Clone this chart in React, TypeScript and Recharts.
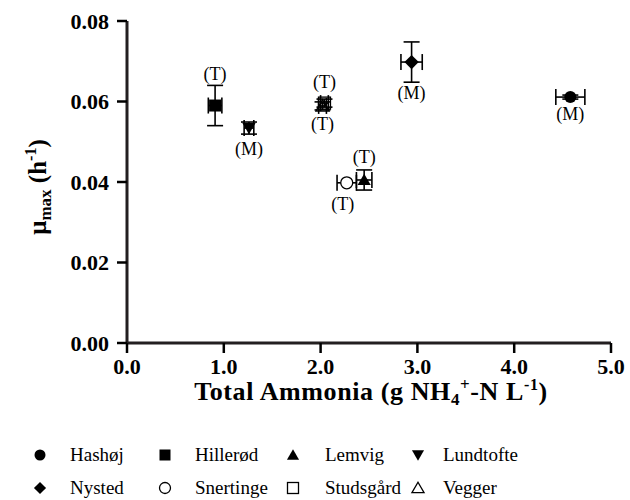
import React from 'react'
import { ScatterChart, Scatter, XAxis, YAxis, ErrorBar } from 'recharts'

// sites, in legend order
const sites = ['Hashøj', 'Hillerød', 'Lemvig', 'Lundtofte', 'Nysted', 'Snertinge', 'Studsgård', 'Vegger']
const ammonia = [4.58, 0.91, 2.45, 1.26, 2.94, 2.27, 2.04, 2.02]
const ammoniaErr = [0.15, 0.07, 0.08, 0.05, 0.11, 0.1, 0.04, 0.04]
const muMax = [0.0611, 0.059, 0.0405, 0.0534, 0.0698, 0.0398, 0.0596, 0.0589]
const muMaxErr = [0.0005, 0.005, 0.0025, 0.0015, 0.005, 0, 0.001, 0.001]
const tags = ['(M)', '(T)', '(T)', '(M)', '(M)', '(T)', '(T)', '(T)']

const xTicks = [0, 1, 2, 3, 4, 5]
const yTicks = [0, 0.02, 0.04, 0.06, 0.08]

type Kind = 'circle' | 'square' | 'triangle' | 'triangleDown' | 'diamond' | 'circleOpen' | 'squareOpen' | 'triangleOpen'
const kinds: Kind[] = ['circle', 'square', 'triangle', 'triangleDown', 'diamond', 'circleOpen', 'squareOpen', 'triangleOpen']
// vertical offset of the (T)/(M) tag from the marker centre
const tagDy = [17, -32, -23, 21, 31, 21, -21, 18]
const tagDx = [0, 0, 0, 0, 0, -4, 0, 0]

const FONT = "'Liberation Serif', 'DejaVu Serif', serif"
const serif = { fontFamily: FONT }

function Marker({ kind, cx, cy, s }: { kind: Kind; cx: number; cy: number; s: number }) {
    const h = s / 2
    const open = kind.endsWith('Open')
    const fill = open ? 'none' : '#000'
    const stroke = '#000'
    const sw = open ? 1.3 : 0
    if (kind === 'circle' || kind === 'circleOpen') {
        return <circle cx={cx} cy={cy} r={h} fill={kind === 'circleOpen' ? '#fff' : fill} stroke={stroke} strokeWidth={sw} />
    }
    if (kind === 'square' || kind === 'squareOpen') {
        return <rect x={cx - h} y={cy - h} width={s} height={s} fill={fill} stroke={stroke} strokeWidth={sw} />
    }
    if (kind === 'triangle' || kind === 'triangleOpen') {
        return <path d={`M${cx},${cy - h * 1.05}L${cx + h * 1.1},${cy + h * 0.85}L${cx - h * 1.1},${cy + h * 0.85}Z`} fill={fill} stroke={stroke} strokeWidth={sw} />
    }
    if (kind === 'triangleDown') {
        return <path d={`M${cx},${cy + h * 1.05}L${cx + h * 1.1},${cy - h * 0.85}L${cx - h * 1.1},${cy - h * 0.85}Z`} fill={fill} />
    }
    return <path d={`M${cx},${cy - h * 1.1}L${cx + h * 1.1},${cy}L${cx},${cy + h * 1.1}L${cx - h * 1.1},${cy}Z`} fill={fill} />
}

const series = sites.map((name, i) => ({
    name,
    kind: kinds[i],
    data: [{ x: ammonia[i], y: muMax[i], xErr: ammoniaErr[i], yErr: muMaxErr[i], tag: tags[i] }],
}))

function YLabel() {
    return (
        <text x={46} y={187} transform="rotate(-90, 46, 187)" textAnchor="middle" style={serif} fontWeight="bold" fontSize={25} fill="#000">
            <tspan>μ</tspan>
            <tspan fontSize={17} dy={5}>max</tspan>
            <tspan dy={-5}> (h</tspan>
            <tspan fontSize={16} dy={-10}>-1</tspan>
            <tspan dy={10}>)</tspan>
        </text>
    )
}

function XLabel() {
    return (
        <text x={371} y={400} textAnchor="middle" style={{ ...serif, letterSpacing: 0.6 }} fontWeight="bold" fontSize={26} fill="#000">
            <tspan>Total Ammonia (g NH</tspan>
            <tspan fontSize={17} dy={5}>4</tspan>
            <tspan fontSize={17} dy={-15}>+</tspan>
            <tspan dy={10}>-N L</tspan>
            <tspan fontSize={16} dy={-10}>-1</tspan>
            <tspan dy={10}>)</tspan>
        </text>
    )
}

function LegendBlock() {
    const colX = [40, 165, 293, 418]
    const textX = [70, 195, 325, 443]
    return (
        <svg width={630} height={70} style={{ position: 'absolute', left: 0, top: 430 }}>
            {series.map((s, i) => {
                const col = i % 4
                const row = Math.floor(i / 4)
                const cy = 25 + row * 33
                return (
                    <g key={s.name}>
                        <Marker kind={s.kind} cx={colX[col]} cy={cy} s={11} />
                        <text x={textX[col]} y={cy + 6} style={serif} fontSize={19} fill="#000">{s.name}</text>
                    </g>
                )
            })}
        </svg>
    )
}

export default function App() {
    const tickStyle = { fontWeight: 'bold' as const, fontSize: 22, fill: '#000', style: serif }
    return (
        <div style={{ position: 'absolute', left: 0, top: 0, width: 630, height: 500, background: '#fff', overflow: 'hidden', fontFamily: FONT }}>
            <ScatterChart width={630} height={425} margin={{ top: 21, right: 19, bottom: 0, left: 0 }} style={serif}>
                <XAxis
                    type="number"
                    dataKey="x"
                    domain={[0, 5]}
                    ticks={xTicks}
                    tickFormatter={(v: number) => v.toFixed(1)}
                    tick={tickStyle}
                    tickSize={10}
                    tickMargin={5}
                    height={82}
                    stroke="#000"
                    tickLine={{ stroke: '#000', strokeWidth: 2.5 }}
                    axisLine={{ stroke: '#231f20', strokeWidth: 3 }}
                    label={<XLabel />}
                />
                <XAxis xAxisId="top" orientation="top" type="number" domain={[0, 5]} height={0} tick={false} tickLine={false} axisLine={{ stroke: '#231f20', strokeWidth: 3 }} />
                <YAxis
                    type="number"
                    dataKey="y"
                    domain={[0, 0.08]}
                    ticks={yTicks}
                    tickFormatter={(v: number) => v.toFixed(2)}
                    tick={tickStyle}
                    tickSize={10}
                    tickMargin={8}
                    width={127}
                    stroke="#000"
                    tickLine={{ stroke: '#000', strokeWidth: 2.5 }}
                    axisLine={{ stroke: '#231f20', strokeWidth: 3 }}
                    label={<YLabel />}
                />
                <YAxis yAxisId="right" orientation="right" type="number" domain={[0, 0.08]} width={0} tick={false} tickLine={false} axisLine={{ stroke: '#231f20', strokeWidth: 3 }} />
                {series.map((s, i) => (
                    <Scatter
                        key={s.name}
                        name={s.name}
                        data={s.data}
                        isAnimationActive={false}
                        shape={(props: any) => (
                            <g>
                                <Marker kind={s.kind} cx={props.cx} cy={props.cy} s={s.kind === 'diamond' ? 13 : 12} />
                                <text x={props.cx + tagDx[i]} y={props.cy + tagDy[i] + 6} textAnchor="middle" style={serif} fontSize={18} fill="#000">
                                    {props.payload.tag}
                                </text>
                            </g>
                        )}
                    >
                        <ErrorBar dataKey="xErr" direction="x" width={8} stroke="#000" strokeWidth={1.6} />
                        <ErrorBar dataKey="yErr" direction="y" width={8} stroke="#000" strokeWidth={1.6} />
                    </Scatter>
                ))}
            </ScatterChart>
            <LegendBlock />
        </div>
    )
}
